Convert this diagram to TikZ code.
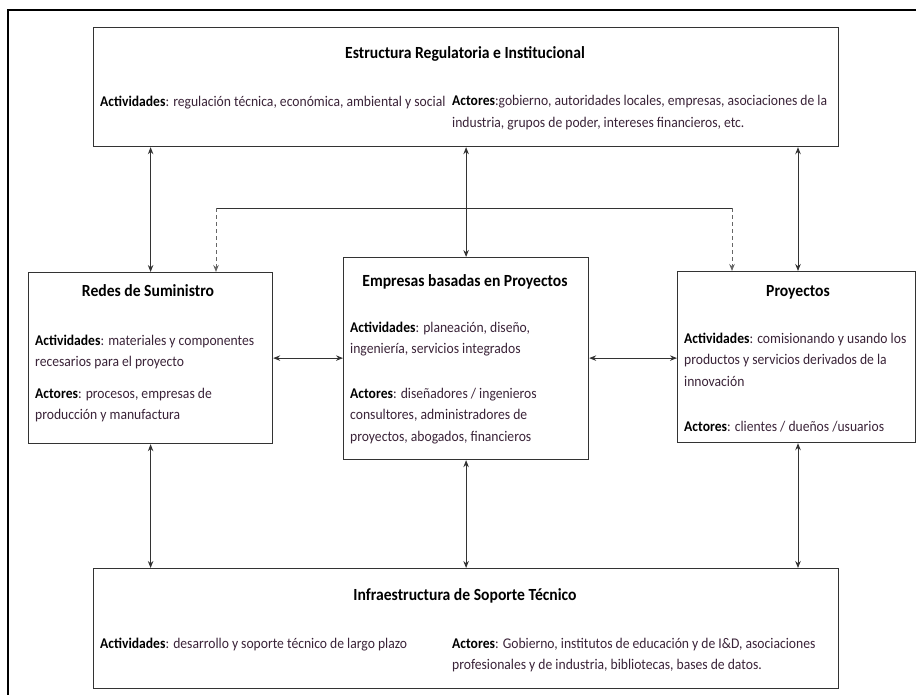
\documentclass[tikz,border=0pt]{standalone}
\usepackage{fontspec}
\setmainfont[FakeStretch=0.92]{Carlito}
\usetikzlibrary{arrows.meta}
\definecolor{bodytxt}{HTML}{3A2338}
\definecolor{edge}{HTML}{333333}
\newcommand{\lbl}[1]{\textbf{\color{black}#1}}
\begin{document}
\begin{tikzpicture}[x=1pt,y=-1pt,
  box/.style={draw=edge,line width=1.2pt,rectangle,inner sep=0pt,anchor=north west},
  ttl/.style={anchor=base,inner sep=0pt,font=\fontsize{17}{20}\selectfont\bfseries},
  % multi-line blocks are placed by the baseline of their last line
  txt/.style={anchor=base west,inner sep=0pt,align=left,text=bodytxt,
    font=\fontsize{14.8}{21.7}\selectfont},
  tip/.tip={Stealth[length=7pt,width=5.5pt]},
  link/.style={draw=edge,line width=1pt,tip-tip},
  feed/.style={draw=edge!75,line width=1pt,dash pattern=on 4pt off 3pt,-tip}]
\useasboundingbox (0,0) rectangle (916,694);
\begin{scope}
\clip (0,0) rectangle (916,694);
% outer frame
\draw[line width=2.2pt] (8,10) rectangle (940,720);

% boxes
\node[box,minimum width=745pt,minimum height=119pt] (reg) at (93,27) {};
\node[box,minimum width=244pt,minimum height=171pt] (redes) at (28,272) {};
\node[box,minimum width=245pt,minimum height=202pt] (emp) at (343,257) {};
\node[box,minimum width=238pt,minimum height=171pt] (proy) at (677,271) {};
\node[box,minimum width=745pt,minimum height=120pt] (infra) at (93,568) {};

% regulatory structure
\node[ttl] (regT) at (465,58) {Estructura Regulatoria e Institucional};
\node[txt] (regA) at (100,106) {\lbl{Actividades}: regulación técnica, económica, ambiental y social};
\node[txt] (regB) at (452,127.5) {\lbl{Actores}:gobierno, autoridades locales, empresas, asociaciones de la\\ industria, grupos de poder, intereses financieros, etc.};

% supply networks
\node[ttl] (redesT) at (148,296) {Redes de Suministro};
\node[txt] (redesA) at (35,366.7) {\lbl{Actividades}: materiales y componentes\\ recesarios para el proyecto};
\node[txt] (redesB) at (35,419.7) {\lbl{Actores}: procesos, empresas de\\ producción y manufactura};

% project-based firms
\node[ttl] (empT) at (465,286) {Empresas basadas en Proyectos};
\node[txt] (empA) at (350,353.7) {\lbl{Actividades}: planeación, diseño,\\ ingeniería, servicios integrados};
\node[txt] (empB) at (350,441.4) {\lbl{Actores}: diseñadores / ingenieros\\ consultores, administradores de\\ proyectos, abogados, financieros};

% projects
\node[ttl] (proyT) at (798,296) {Proyectos};
\node[txt] (proyA) at (684,386.4) {\lbl{Actividades}: comisionando y usando los\\ productos y servicios derivados de la\\ innovación};
\node[txt] (proyB) at (684,431) {\lbl{Actores}: clientes / dueños /usuarios};

% technical support infrastructure
\node[ttl] (infraT) at (465,600) {Infraestructura de Soporte Técnico};
\node[txt] (infraA) at (100,648) {\lbl{Actividades}: desarrollo y soporte técnico de largo plazo};
\node[txt] (infraB) at (452,669.7) {\lbl{Actores}: Gobierno, institutos de educación y de I\&D, asociaciones\\ profesionales y de industria, bibliotecas, bases de datos.};

% links to the regulatory structure
\draw[link] (reg.south -| redes.north) -- (redes.north);
\draw[link] (reg.south -| emp.north) -- (emp.north);
\draw[link] (reg.south -| 798,0) -- (proy.north -| 798,0);

% feedback from the project-based firms
\coordinate (fbL) at (216,208);
\coordinate (fbR) at (732,208);
\draw[draw=edge,line width=1pt] (fbL) -- (fbR);
\draw[feed] (fbL) -- (fbL |- redes.north);
\draw[feed] (fbR) -- (fbR |- proy.north);

% horizontal links
\draw[link] (redes.east) -- (redes.east -| emp.west);
\draw[link] (emp.east |- redes.east) -- (proy.west |- redes.east);

% links to the support infrastructure
\draw[link] (redes.south) -- (redes.south |- infra.north);
\draw[link] (emp.south) -- (emp.south |- infra.north);
\draw[link] (proy.south -| 798,0) -- (infra.north -| 798,0);
\end{scope}
\end{tikzpicture}
\end{document}
